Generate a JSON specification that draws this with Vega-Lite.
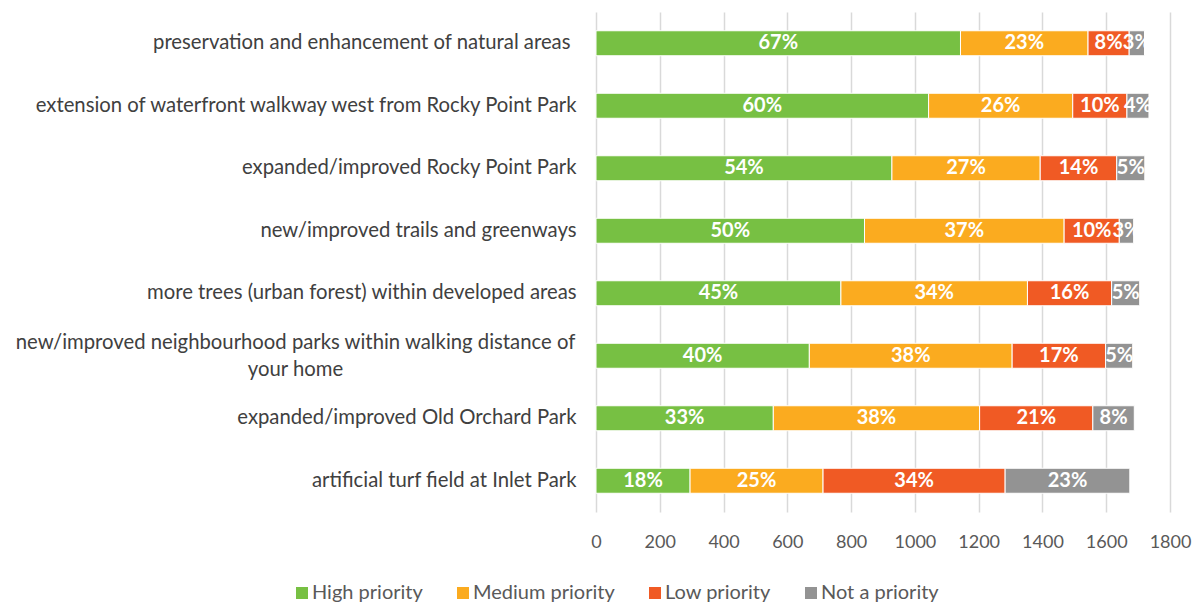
{
  "$schema": "https://vega.github.io/schema/vega-lite/v6.json",
  "autosize": {"type": "none"},
  "padding": {"left": 596, "top": 12, "right": 32, "bottom": 90},
  "width": 574,
  "height": 500,
  "background": "white",
  "config": {
    "font": "Lato",
    "view": {"stroke": null}
  },
  "data": {
    "values": [
      {"item": "preservation and enhancement of natural areas", "priority": "High priority", "ord": 1, "count": 1143, "label": "67%"},
      {"item": "preservation and enhancement of natural areas", "priority": "Medium priority", "ord": 2, "count": 400, "label": "23%"},
      {"item": "preservation and enhancement of natural areas", "priority": "Low priority", "ord": 3, "count": 129, "label": "8%"},
      {"item": "preservation and enhancement of natural areas", "priority": "Not a priority", "ord": 4, "count": 48, "label": "3%"},
      {"item": "extension of waterfront walkway west from Rocky Point Park", "priority": "High priority", "ord": 1, "count": 1043, "label": "60%"},
      {"item": "extension of waterfront walkway west from Rocky Point Park", "priority": "Medium priority", "ord": 2, "count": 452, "label": "26%"},
      {"item": "extension of waterfront walkway west from Rocky Point Park", "priority": "Low priority", "ord": 3, "count": 170, "label": "10%"},
      {"item": "extension of waterfront walkway west from Rocky Point Park", "priority": "Not a priority", "ord": 4, "count": 69, "label": "4%"},
      {"item": "expanded/improved Rocky Point Park", "priority": "High priority", "ord": 1, "count": 928, "label": "54%"},
      {"item": "expanded/improved Rocky Point Park", "priority": "Medium priority", "ord": 2, "count": 465, "label": "27%"},
      {"item": "expanded/improved Rocky Point Park", "priority": "Low priority", "ord": 3, "count": 240, "label": "14%"},
      {"item": "expanded/improved Rocky Point Park", "priority": "Not a priority", "ord": 4, "count": 88, "label": "5%"},
      {"item": "new/improved trails and greenways", "priority": "High priority", "ord": 1, "count": 842, "label": "50%"},
      {"item": "new/improved trails and greenways", "priority": "Medium priority", "ord": 2, "count": 626, "label": "37%"},
      {"item": "new/improved trails and greenways", "priority": "Low priority", "ord": 3, "count": 173, "label": "10%"},
      {"item": "new/improved trails and greenways", "priority": "Not a priority", "ord": 4, "count": 45, "label": "3%"},
      {"item": "more trees (urban forest) within developed areas", "priority": "High priority", "ord": 1, "count": 768, "label": "45%"},
      {"item": "more trees (urban forest) within developed areas", "priority": "Medium priority", "ord": 2, "count": 585, "label": "34%"},
      {"item": "more trees (urban forest) within developed areas", "priority": "Low priority", "ord": 3, "count": 264, "label": "16%"},
      {"item": "more trees (urban forest) within developed areas", "priority": "Not a priority", "ord": 4, "count": 88, "label": "5%"},
      {"item": "new/improved neighbourhood parks within walking distance of your home", "priority": "High priority", "ord": 1, "count": 669, "label": "40%"},
      {"item": "new/improved neighbourhood parks within walking distance of your home", "priority": "Medium priority", "ord": 2, "count": 636, "label": "38%"},
      {"item": "new/improved neighbourhood parks within walking distance of your home", "priority": "Low priority", "ord": 3, "count": 293, "label": "17%"},
      {"item": "new/improved neighbourhood parks within walking distance of your home", "priority": "Not a priority", "ord": 4, "count": 85, "label": "5%"},
      {"item": "expanded/improved Old Orchard Park", "priority": "High priority", "ord": 1, "count": 556, "label": "33%"},
      {"item": "expanded/improved Old Orchard Park", "priority": "Medium priority", "ord": 2, "count": 647, "label": "38%"},
      {"item": "expanded/improved Old Orchard Park", "priority": "Low priority", "ord": 3, "count": 355, "label": "21%"},
      {"item": "expanded/improved Old Orchard Park", "priority": "Not a priority", "ord": 4, "count": 130, "label": "8%"},
      {"item": "artificial turf field at Inlet Park", "priority": "High priority", "ord": 1, "count": 295, "label": "18%"},
      {"item": "artificial turf field at Inlet Park", "priority": "Medium priority", "ord": 2, "count": 417, "label": "25%"},
      {"item": "artificial turf field at Inlet Park", "priority": "Low priority", "ord": 3, "count": 571, "label": "34%"},
      {"item": "artificial turf field at Inlet Park", "priority": "Not a priority", "ord": 4, "count": 391, "label": "23%"}
    ]
  },
  "encoding": {
    "y": {
      "field": "item",
      "type": "nominal",
      "sort": null,
      "scale": {"paddingInner": 0.6, "paddingOuter": 0.3},
      "axis": {
        "title": null,
        "ticks": false,
        "domain": false,
        "grid": false,
        "labelFontSize": 20.3,
        "labelColor": "#404040",
        "labelLimit": 0,
        "labelLineHeight": 27,
        "labelAlign": {
          "condition": {"test": "datum.value == 'new/improved neighbourhood parks within walking distance of your home'", "value": "center"},
          "value": "right"
        },
        "labelPadding": {
          "condition": [
            {"test": "datum.value == 'new/improved neighbourhood parks within walking distance of your home'", "value": 301},
            {"test": "datum.value == 'preservation and enhancement of natural areas'", "value": 26}
          ],
          "value": 20
        },
        "labelOffset": {
          "condition": {"test": "datum.value == 'new/improved neighbourhood parks within walking distance of your home'", "value": -13},
          "value": 0
        },
        "labelExpr": "datum.value == 'new/improved neighbourhood parks within walking distance of your home' ? ['new/improved neighbourhood parks within walking distance of', 'your home'] : datum.value"
      }
    },
    "x": {
      "field": "count",
      "type": "quantitative",
      "stack": "zero",
      "scale": {"domain": [0, 1800], "nice": false},
      "axis": {
        "title": null,
        "values": [0, 200, 400, 600, 800, 1000, 1200, 1400, 1600, 1800],
        "format": "d",
        "ticks": false,
        "domain": false,
        "grid": true,
        "gridColor": "#D9D9D9",
        "gridWidth": 1.5,
        "labelPadding": 21,
        "labelFontSize": 18,
        "labelColor": "#595959",
        "labelFlush": false
      }
    },
    "order": {"field": "ord", "type": "quantitative"}
  },
  "layer": [
    {
      "mark": {"type": "bar", "stroke": "white", "strokeWidth": 1},
      "encoding": {
        "color": {
          "field": "priority",
          "type": "nominal",
          "scale": {
            "domain": ["High priority", "Medium priority", "Low priority", "Not a priority"],
            "range": ["#77C043", "#FBAB1F", "#F05A24", "#939393"]
          },
          "legend": {
            "title": null,
            "orient": "none",
            "direction": "horizontal",
            "legendX": -304,
            "legendY": 571,
            "padding": 0,
            "symbolType": "square",
            "symbolSize": 144,
            "symbolStrokeWidth": 0,
            "labelFontSize": 20,
            "labelColor": "#595959",
            "columnPadding": 30,
            "labelOffset": 0
          }
        }
      }
    },
    {
      "mark": {"type": "text", "color": "white", "fontWeight": "bold", "fontSize": 20, "baseline": "middle", "align": "center"},
      "encoding": {
        "x": {"field": "count", "type": "quantitative", "stack": "zero", "bandPosition": 0.5},
        "detail": {"field": "priority"},
        "text": {"field": "label"}
      }
    }
  ]
}
